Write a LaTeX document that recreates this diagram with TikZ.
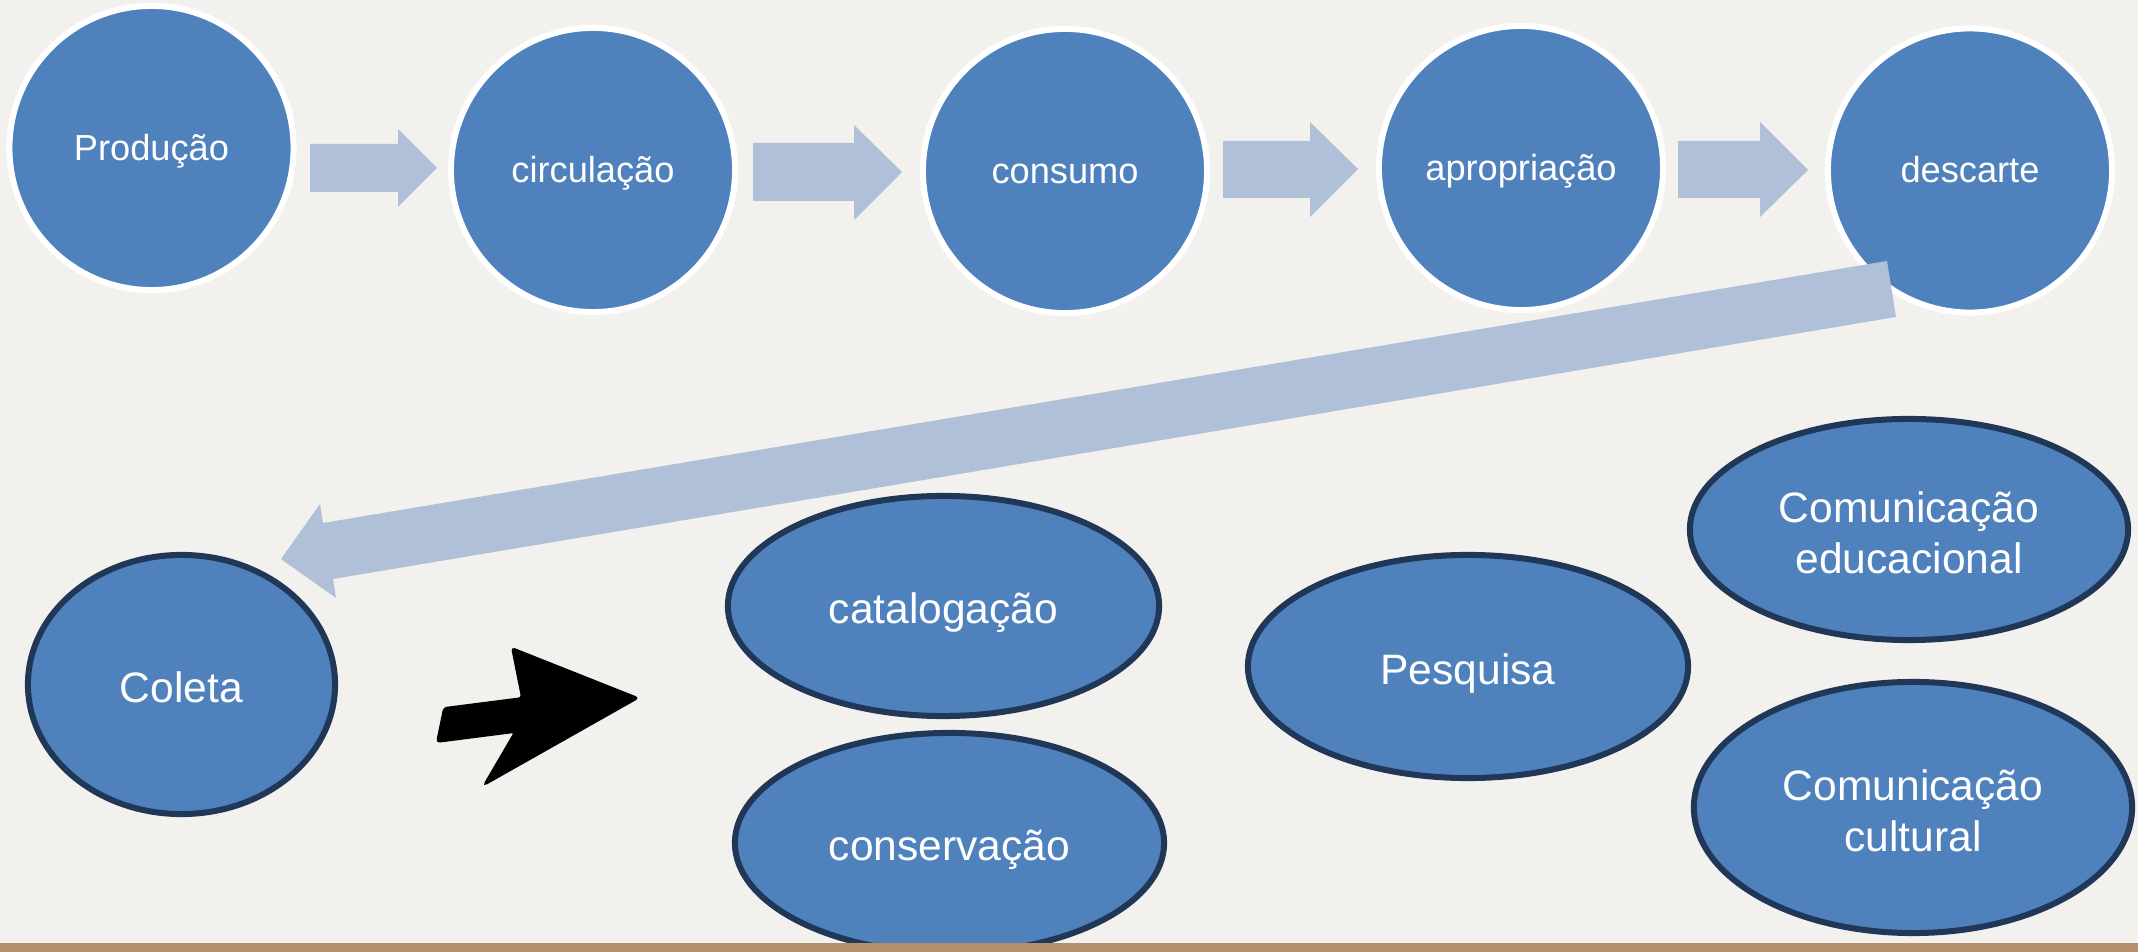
\documentclass[tikz,border=0pt]{standalone}
\usepackage{fontspec}
\setmainfont{Liberation Sans}
\usetikzlibrary{shapes.geometric}
\definecolor{bg}{RGB}{242,241,237}
\definecolor{nodeblue}{RGB}{79,129,189}
\definecolor{navy}{RGB}{32,55,87}
\definecolor{arrowblue}{RGB}{176,192,216}
\definecolor{bandtan}{RGB}{179,143,110}
\begin{document}
\begin{tikzpicture}[x=0.01cm,y=-0.01cm,
  topcirc/.style={circle, fill=nodeblue, draw=white, line width=0.06cm,
    minimum size=2.84cm, inner sep=0pt, outer sep=0pt, text=white,
    text height=0.24cm, text depth=0pt,
    font=\fontsize{10.3}{12}\selectfont},
  ell/.style={ellipse, fill=nodeblue, draw=navy, line width=0.06cm,
    inner sep=0pt, outer sep=0pt, text=white, align=center,
    font=\fontsize{12.1}{14.6}\selectfont},
  oneline/.style={text height=0.35cm, text depth=0pt},
  twolinetext/.style={inner sep=0pt, text=white, align=center,
    font=\fontsize{12.1}{14.6}\selectfont, yshift=-0.03cm},
  blockarrow/.style={fill=arrowblue, draw=none},
  blackarrow/.style={fill=black, draw=black, line width=0.5pt, rounded corners=0.03cm}]
\useasboundingbox (0,0) rectangle (2138,952);
\fill[bg] (0,0) rectangle (2138,952);

% top row circles
\node[topcirc] (prod) at (151.5,148) {Produção};
\node[topcirc] (circ) at (593,170) {circulação};
\node[topcirc] (cons) at (1065,171) {consumo};
\node[topcirc] (apro) at (1521,168) {apropriação};
\node[topcirc] (desc) at (1970,170.5) {descarte};

% block arrows between circles
\fill[blockarrow] (310,144) -- (398,144) -- (398,129) -- (437,168) -- (398,207) -- (398,192) -- (310,192) -- cycle;
\fill[blockarrow] (753,143) -- (854,143) -- (854,125) -- (902,172) -- (854,220) -- (854,201) -- (753,201) -- cycle;
\fill[blockarrow] (1223,141) -- (1310,141) -- (1310,122) -- (1358,169) -- (1310,217) -- (1310,198) -- (1223,198) -- cycle;
\fill[blockarrow] (1678,141) -- (1760,141) -- (1760,122) -- (1808,170) -- (1760,217) -- (1760,198) -- (1678,198) -- cycle;

% bottom ellipses
\node[ell, oneline, minimum width=3.07cm, minimum height=2.59cm] (colet) at (181.5,684.5) {Coleta};
\node[ell, oneline, minimum width=4.31cm, minimum height=2.20cm] (catal) at (943.5,606) {catalogação};
\node[ell, oneline, minimum width=4.29cm, minimum height=2.20cm] (conse) at (949.5,843) {conservação};
\node[ell, oneline, minimum width=4.40cm, minimum height=2.23cm] (pesq) at (1468,666.5) {Pesquisa};
\node[ell, minimum width=4.38cm, minimum height=2.21cm] (educ) at (1909,529.5) {};
\node[twolinetext] (eductext) at (educ.center) {Comunicação\\educacional};
\node[ell, minimum width=4.38cm, minimum height=2.51cm] (cult) at (1913,807.5) {};
\node[twolinetext] (culttext) at (cult.center) {Comunicação\\cultural};

% big return arrow from descarte to Coleta
\fill[blockarrow] (1887,261) -- (1896,317) -- (333,579) -- (336,598) -- (281,559) -- (320,504) -- (323,523) -- cycle;

% black arrow
\filldraw[blackarrow] (437,742) -- (444,708) -- (522,698) -- (512,648) -- (638,698) -- (484,785) -- (515,732) -- cycle;

% bottom band
\fill[bandtan] (0,943) rectangle (2138,952);
\end{tikzpicture}
\end{document}
